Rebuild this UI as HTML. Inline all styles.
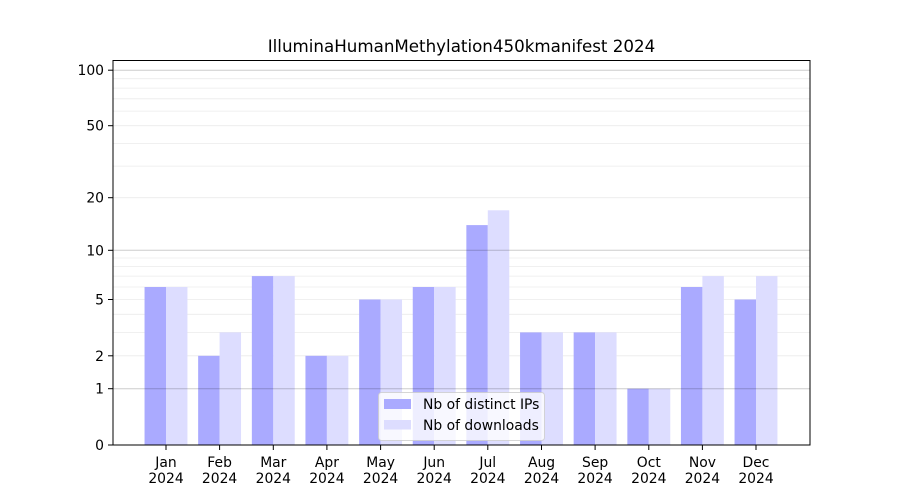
<!DOCTYPE html>
<html>
<head>
<meta charset="utf-8">
<style>
  html, body { margin: 0; padding: 0; background: #ffffff; }
  svg { display: block; }
  text { font-family: "DejaVu Sans", "Liberation Sans", sans-serif; fill: #000; }
</style>
</head>
<body>
<svg width="900" height="500" viewBox="0 0 900 500" xmlns="http://www.w3.org/2000/svg">
  <rect x="0" y="0" width="900" height="500" fill="#ffffff"/>

  <!-- minor grid -->
  <g stroke="#ebebeb" stroke-width="0.8">
    <line x1="113" x2="810" y1="355.8" y2="355.8"/>
    <line x1="113" x2="810" y1="332.4" y2="332.4"/>
    <line x1="113" x2="810" y1="314.3" y2="314.3"/>
    <line x1="113" x2="810" y1="299.5" y2="299.5"/>
    <line x1="113" x2="810" y1="287.0" y2="287.0"/>
    <line x1="113" x2="810" y1="276.1" y2="276.1"/>
    <line x1="113" x2="810" y1="266.6" y2="266.6"/>
    <line x1="113" x2="810" y1="258.0" y2="258.0"/>
    <line x1="113" x2="810" y1="197.7" y2="197.7"/>
    <line x1="113" x2="810" y1="166.1" y2="166.1"/>
    <line x1="113" x2="810" y1="143.4" y2="143.4"/>
    <line x1="113" x2="810" y1="125.7" y2="125.7"/>
    <line x1="113" x2="810" y1="111.1" y2="111.1"/>
    <line x1="113" x2="810" y1="98.8" y2="98.8"/>
    <line x1="113" x2="810" y1="88.1" y2="88.1"/>
    <line x1="113" x2="810" y1="78.7" y2="78.7"/>
  </g>

  <!-- bars: distinct IPs (dark) -->
  <g fill="#aaaaff">
    <rect x="144.55" y="287.0" width="21.45" height="158.0"/>
    <rect x="198.15" y="355.8" width="21.45" height="89.2"/>
    <rect x="251.85" y="276.1" width="21.45" height="168.9"/>
    <rect x="305.45" y="355.8" width="21.45" height="89.2"/>
    <rect x="359.15" y="299.5" width="21.45" height="145.5"/>
    <rect x="412.75" y="287.0" width="21.45" height="158.0"/>
    <rect x="466.35" y="225.1" width="21.45" height="219.9"/>
    <rect x="520.05" y="332.4" width="21.45" height="112.6"/>
    <rect x="573.65" y="332.4" width="21.45" height="112.6"/>
    <rect x="627.35" y="388.7" width="21.45" height="56.3"/>
    <rect x="680.95" y="287.0" width="21.45" height="158.0"/>
    <rect x="734.55" y="299.5" width="21.45" height="145.5"/>
  </g>
  <!-- bars: downloads (light) -->
  <g fill="#ddddff">
    <rect x="166.0" y="287.0" width="21.45" height="158.0"/>
    <rect x="219.6" y="332.4" width="21.45" height="112.6"/>
    <rect x="273.3" y="276.1" width="21.45" height="168.9"/>
    <rect x="326.9" y="355.8" width="21.45" height="89.2"/>
    <rect x="380.6" y="299.5" width="21.45" height="145.5"/>
    <rect x="434.2" y="287.0" width="21.45" height="158.0"/>
    <rect x="487.8" y="210.3" width="21.45" height="234.7"/>
    <rect x="541.5" y="332.4" width="21.45" height="112.6"/>
    <rect x="595.1" y="332.4" width="21.45" height="112.6"/>
    <rect x="648.8" y="388.7" width="21.45" height="56.3"/>
    <rect x="702.4" y="276.1" width="21.45" height="168.9"/>
    <rect x="756.0" y="276.1" width="21.45" height="168.9"/>
  </g>

  <!-- major grid -->
  <g stroke="rgba(0,0,0,0.2)" stroke-width="1">
    <line x1="113" x2="810" y1="388.7" y2="388.7"/>
    <line x1="113" x2="810" y1="250.3" y2="250.3"/>
    <line x1="113" x2="810" y1="70.2" y2="70.2"/>
  </g>

  <!-- legend -->
  <rect x="378.5" y="392.5" width="166" height="48" rx="3" ry="3" fill="rgba(255,255,255,0.8)" stroke="rgba(204,204,204,0.8)" stroke-width="1"/>
  <rect x="384" y="399" width="27" height="10" fill="#aaaaff"/>
  <rect x="384" y="420" width="27" height="9.5" fill="#ddddff"/>
  <text x="423" y="409" font-size="13.9">Nb of distinct IPs</text>
  <text x="423" y="430" font-size="13.9">Nb of downloads</text>

  <!-- axes frame -->
  <rect x="113" y="60.5" width="697" height="384.5" fill="none" stroke="#000" stroke-width="1"/>

  <!-- y ticks -->
  <g stroke="#000" stroke-width="1">
    <line x1="108" x2="113" y1="445" y2="445"/>
    <line x1="108" x2="113" y1="388.7" y2="388.7"/>
    <line x1="108" x2="113" y1="355.8" y2="355.8"/>
    <line x1="108" x2="113" y1="299.5" y2="299.5"/>
    <line x1="108" x2="113" y1="250.3" y2="250.3"/>
    <line x1="108" x2="113" y1="197.7" y2="197.7"/>
    <line x1="108" x2="113" y1="125.7" y2="125.7"/>
    <line x1="108" x2="113" y1="70.2" y2="70.2"/>
  </g>
  <g font-size="13.9" text-anchor="end">
    <text x="104" y="450">0</text>
    <text x="104" y="393.7">1</text>
    <text x="104" y="360.8">2</text>
    <text x="104" y="304.5">5</text>
    <text x="104" y="255.3">10</text>
    <text x="104" y="202.7">20</text>
    <text x="104" y="130.7">50</text>
    <text x="104" y="75.2">100</text>
  </g>

  <!-- x ticks -->
  <g stroke="#000" stroke-width="1">
    <line x1="166.0" x2="166.0" y1="445" y2="450"/>
    <line x1="219.6" x2="219.6" y1="445" y2="450"/>
    <line x1="273.3" x2="273.3" y1="445" y2="450"/>
    <line x1="326.9" x2="326.9" y1="445" y2="450"/>
    <line x1="380.6" x2="380.6" y1="445" y2="450"/>
    <line x1="434.2" x2="434.2" y1="445" y2="450"/>
    <line x1="487.8" x2="487.8" y1="445" y2="450"/>
    <line x1="541.5" x2="541.5" y1="445" y2="450"/>
    <line x1="595.1" x2="595.1" y1="445" y2="450"/>
    <line x1="648.8" x2="648.8" y1="445" y2="450"/>
    <line x1="702.4" x2="702.4" y1="445" y2="450"/>
    <line x1="756.0" x2="756.0" y1="445" y2="450"/>
  </g>
  <g font-size="13.9" text-anchor="middle">
    <text x="166.0" y="467">Jan</text><text x="166.0" y="483">2024</text>
    <text x="219.6" y="467">Feb</text><text x="219.6" y="483">2024</text>
    <text x="273.3" y="467">Mar</text><text x="273.3" y="483">2024</text>
    <text x="326.9" y="467">Apr</text><text x="326.9" y="483">2024</text>
    <text x="380.6" y="467">May</text><text x="380.6" y="483">2024</text>
    <text x="434.2" y="467">Jun</text><text x="434.2" y="483">2024</text>
    <text x="487.8" y="467">Jul</text><text x="487.8" y="483">2024</text>
    <text x="541.5" y="467">Aug</text><text x="541.5" y="483">2024</text>
    <text x="595.1" y="467">Sep</text><text x="595.1" y="483">2024</text>
    <text x="648.8" y="467">Oct</text><text x="648.8" y="483">2024</text>
    <text x="702.4" y="467">Nov</text><text x="702.4" y="483">2024</text>
    <text x="756.0" y="467">Dec</text><text x="756.0" y="483">2024</text>
  </g>

  <!-- title -->
  <text x="461.5" y="52" font-size="16.7" text-anchor="middle">IlluminaHumanMethylation450kmanifest 2024</text>
</svg>
</body>
</html>
